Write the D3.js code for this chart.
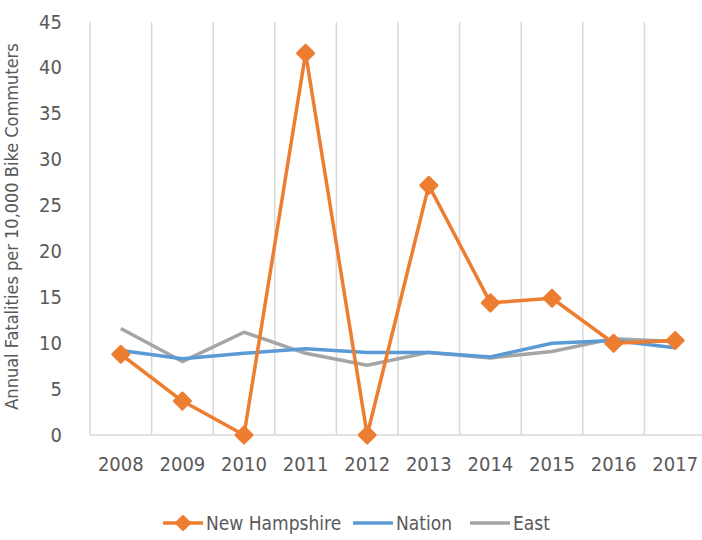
<!DOCTYPE html>
<html>
<head>
<meta charset="utf-8">
<script src="https://cdn.jsdelivr.net/npm/d3@7"></script>
<style>
  body { margin: 0; background: #fff; }
  text { font-family: "DejaVu Sans Condensed", "DejaVu Sans", sans-serif; font-stretch: condensed; fill: #595959; }
</style>
</head>
<body>
<svg id="chart" width="702" height="540"></svg>
<script>
var years = ["2008","2009","2010","2011","2012","2013","2014","2015","2016","2017"];
var newHampshire = [8.8, 3.7, 0, 41.6, 0, 27.2, 14.4, 14.9, 10.0, 10.3];
var nation = [9.2, 8.3, 8.9, 9.4, 9.0, 9.0, 8.5, 10.0, 10.3, 9.5];
var east = [11.6, 8.0, 11.2, 8.9, 7.6, 9.0, 8.4, 9.1, 10.5, 10.2];
var yTicks = [0, 5, 10, 15, 20, 25, 30, 35, 40, 45];

var margin = {top: 22, right: -4, bottom: 105, left: 90},
    width = 702 - margin.left - margin.right,
    height = 540 - margin.top - margin.bottom;

var svg = d3.select("#chart")
  .append("g")
    .attr("transform", "translate(" + margin.left + "," + margin.top + ")");

var x = d3.scaleBand()
    .domain(years)
    .range([0, width]);

var y = d3.scaleLinear()
    .domain([0, 45])
    .range([height, 0]);

// vertical gridlines between categories
var bounds = d3.range(years.length + 1).map(function(i) { return i * x.step(); });
svg.append("g")
  .selectAll("line")
  .data(bounds)
  .enter()
  .append("line")
    .attr("x1", function(d) { return d; })
    .attr("x2", function(d) { return d; })
    .attr("y1", 0)
    .attr("y2", height)
    .attr("stroke", "#d9d9d9")
    .attr("stroke-width", 1.5);

// baseline
svg.append("line")
    .attr("x1", 0).attr("x2", width)
    .attr("y1", y(0)).attr("y2", y(0))
    .attr("stroke", "#d9d9d9")
    .attr("stroke-width", 1.5);

// y axis labels
var yAxis = svg.append("g")
    .call(d3.axisLeft(y).tickValues(yTicks).tickSize(0).tickPadding(28));
yAxis.select(".domain").remove();
yAxis.selectAll("text")
    .style("font-family", null)
    .attr("font-size", 20)
    .attr("dy", "0.3em");

// x axis labels
var xAxis = svg.append("g")
    .attr("transform", "translate(0," + height + ")")
    .call(d3.axisBottom(x).tickSize(0).tickPadding(22));
xAxis.select(".domain").remove();
xAxis.selectAll("text")
    .attr("font-size", 20);

// axis title
svg.append("text")
    .attr("transform", "rotate(-90)")
    .attr("x", -(y(0) + y(45)) / 2 + 2)
    .attr("y", -72)
    .attr("text-anchor", "middle")
    .attr("font-size", 18)
    .text("Annual Fatalities per 10,000 Bike Commuters");

function lineFor(vals) {
  return d3.line()
    .x(function(d, i) { return x(years[i]) + x.bandwidth() / 2; })
    .y(function(d) { return y(d); })(vals);
}

svg.append("path")
    .attr("d", lineFor(east))
    .attr("fill", "none")
    .attr("stroke", "#a5a5a5")
    .attr("stroke-width", 3.5)
    .attr("stroke-linejoin", "round");

svg.append("path")
    .attr("d", lineFor(nation))
    .attr("fill", "none")
    .attr("stroke", "#5b9bd5")
    .attr("stroke-width", 3.5)
    .attr("stroke-linejoin", "round");

svg.append("path")
    .attr("d", lineFor(newHampshire))
    .attr("fill", "none")
    .attr("stroke", "#ed7d31")
    .attr("stroke-width", 3.5)
    .attr("stroke-linejoin", "round");

function diamond(r) {
  return "M0," + (-r) + "L" + r + ",0L0," + r + "L" + (-r) + ",0Z";
}

svg.selectAll("nhmark")
  .data(newHampshire)
  .enter()
  .append("path")
    .attr("transform", function(d, i) {
      return "translate(" + (x(years[i]) + x.bandwidth() / 2) + "," + y(d) + ")";
    })
    .attr("d", diamond(8))
    .attr("fill", "#ed7d31")
    .attr("stroke", "#ed7d31")
    .attr("stroke-width", 3)
    .attr("stroke-linejoin", "round");

// legend
var legendItems = [
  {name: "New Hampshire", color: "#ed7d31", marker: true, x: 163},
  {name: "Nation", color: "#5b9bd5", marker: false, x: 353},
  {name: "East", color: "#a5a5a5", marker: false, x: 470}
];
var legend = d3.select("#chart").append("g");
var li = legend.selectAll("g")
  .data(legendItems)
  .enter()
  .append("g")
    .attr("transform", function(d) { return "translate(" + d.x + ",523)"; });
li.append("line")
    .attr("x1", 0).attr("x2", 40)
    .attr("stroke", function(d) { return d.color; })
    .attr("stroke-width", 3.5);
li.filter(function(d) { return d.marker; })
  .append("path")
    .attr("transform", "translate(20,0)")
    .attr("d", diamond(6.5))
    .attr("fill", function(d) { return d.color; })
    .attr("stroke", function(d) { return d.color; })
    .attr("stroke-width", 3)
    .attr("stroke-linejoin", "round");
li.append("text")
    .attr("x", 43)
    .attr("dy", "0.35em")
    .attr("font-size", 19)
    .text(function(d) { return d.name; });
</script>
</body>
</html>
